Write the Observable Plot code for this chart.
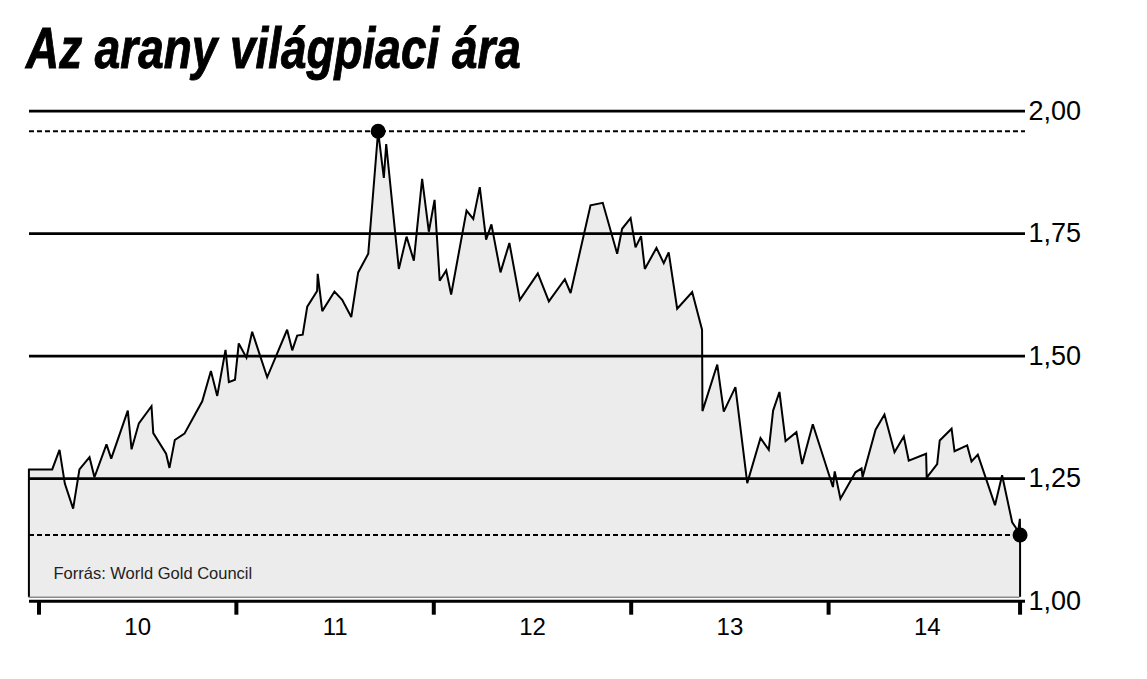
<!DOCTYPE html>
<html>
<head>
<meta charset="utf-8">
<script src="https://cdn.jsdelivr.net/npm/d3@7"></script>
<script src="https://cdn.jsdelivr.net/npm/@observablehq/plot@0.6"></script>
<style>
  html, body { margin: 0; padding: 0; background: #fff; }
  #wrap { width: 1147px; height: 679px; overflow: hidden; }
  #title {
    height: 90px; box-sizing: border-box; padding-top: 20px; padding-left: 26px;
    white-space: nowrap;
  }
  #title span {
    display: inline-block; transform: scaleX(0.805); transform-origin: 0 0;
    font-family: "Liberation Sans", "DejaVu Sans", sans-serif;
    font-weight: bold; font-style: italic; font-size: 57px; line-height: 1; color: #000;
    -webkit-text-stroke: 1px #000;
  }
  #chart svg { display: block; }
</style>
</head>
<body>
<div id="wrap">
  <div id="title"><span></span></div>
  <div id="chart"></div>
</div>
<script>
// time in decimal years, value (price, thousands)
const times = [
  2009.949, 2010.067, 2010.104, 2010.131, 2010.173, 2010.205, 2010.256, 2010.281, 2010.342, 2010.366,
  2010.450, 2010.469, 2010.506, 2010.570, 2010.579, 2010.644, 2010.661, 2010.688, 2010.737, 2010.827,
  2010.871, 2010.903, 2010.945, 2010.962, 2010.993, 2011.012, 2011.051, 2011.080, 2011.156, 2011.257,
  2011.283, 2011.308, 2011.336, 2011.359, 2011.409, 2011.412, 2011.435, 2011.497, 2011.536, 2011.582,
  2011.617, 2011.668, 2011.718, 2011.747, 2011.759, 2011.823, 2011.862, 2011.899, 2011.941, 2011.975,
  2012.004, 2012.030, 2012.063, 2012.088, 2012.166, 2012.200, 2012.233, 2012.265, 2012.292, 2012.338,
  2012.383, 2012.436, 2012.527, 2012.583, 2012.664, 2012.693, 2012.794, 2012.856, 2012.929, 2012.954,
  2012.997, 2013.022, 2013.050, 2013.069, 2013.128, 2013.165, 2013.190, 2013.233, 2013.309, 2013.359,
  2013.361, 2013.436, 2013.469, 2013.528, 2013.588, 2013.655, 2013.697, 2013.719, 2013.751, 2013.782,
  2013.837, 2013.866, 2013.920, 2014.022, 2014.031, 2014.060, 2014.136, 2014.167, 2014.172, 2014.238,
  2014.283, 2014.334, 2014.381, 2014.406, 2014.494, 2014.497, 2014.550, 2014.563, 2014.623, 2014.638,
  2014.702, 2014.724, 2014.756, 2014.843, 2014.879, 2014.930, 2014.947, 2014.960, 2014.969, 2014.970
];
const prices = [
  1.269, 1.269, 1.309, 1.240, 1.189, 1.269, 1.294, 1.253, 1.320, 1.291,
  1.389, 1.310, 1.363, 1.398, 1.343, 1.301, 1.272, 1.329, 1.342, 1.408,
  1.470, 1.419, 1.513, 1.447, 1.452, 1.526, 1.497, 1.550, 1.457, 1.554,
  1.512, 1.542, 1.544, 1.601, 1.633, 1.668, 1.592, 1.632, 1.615, 1.580,
  1.671, 1.709, 1.959, 1.864, 1.933, 1.678, 1.744, 1.695, 1.862, 1.754,
  1.819, 1.654, 1.675, 1.626, 1.797, 1.780, 1.845, 1.738, 1.769, 1.671,
  1.731, 1.615, 1.669, 1.612, 1.657, 1.629, 1.808, 1.813, 1.709, 1.760,
  1.782, 1.722, 1.745, 1.678, 1.721, 1.690, 1.712, 1.597, 1.631, 1.554,
  1.388, 1.483, 1.387, 1.437, 1.241, 1.333, 1.309, 1.389, 1.427, 1.327,
  1.345, 1.280, 1.361, 1.233, 1.265, 1.209, 1.263, 1.271, 1.253, 1.350,
  1.381, 1.304, 1.336, 1.287, 1.301, 1.252, 1.280, 1.328, 1.352, 1.306,
  1.318, 1.285, 1.299, 1.196, 1.257, 1.161, 1.151, 1.142, 1.168, 1.135
];
const yearTicks = [2010, 2011, 2012, 2013, 2014];
const yearLabels = ["10", "11", "12", "13", "14"];
const yTicks = [1.00, 1.25, 1.50, 1.75, 2.00];
const gridValues = [1.25, 1.50, 1.75, 2.00];
const sourceText = "Forrás: World Gold Council";
const titleText = "Az arany világpiaci ára";

document.querySelector("#title span").textContent = titleText;

const data = times.map((t, i) => ({t, v: prices[i]}));
const first = data[0];
const last = data[data.length - 1];
const peak = data.reduce((a, b) => (b.v > a.v ? b : a));
const base = 1.008; // area floor just above the axis line
const endTicks = [...yearTicks, last.t];
const labelPos = yearTicks.map(y => y + 0.5);
const fmt = d => d3.format(".2f")(d).replace(".", ",");
const font = "'Liberation Sans', Arial, sans-serif";

const chart = Plot.plot({
  width: 1147,
  height: 589,
  marginLeft: 29,
  marginRight: 122,
  marginTop: 20.7,
  marginBottom: 78.3,
  style: {fontFamily: font, color: "#000", background: "transparent"},
  x: {domain: [2009.952, 2014.9975], label: null},
  y: {domain: [1, 2], label: null},
  marks: [
    Plot.areaY(data, {x: "t", y1: base, y2: "v", fill: "#ececec"}),
    Plot.ruleY([base], {x1: first.t, x2: last.t, stroke: "#8a8a8a", strokeWidth: 1.5}),
    Plot.ruleX([first, last], {x: "t", y1: base, y2: "v", stroke: "#000", strokeWidth: 2}),
    Plot.ruleY(gridValues, {stroke: "#000", strokeWidth: 2.8}),
    Plot.ruleY([peak.v, last.v], {stroke: "#000", strokeWidth: 2, strokeDasharray: "5,3"}),
    Plot.line(data, {x: "t", y: "v", stroke: "#000", strokeWidth: 2, strokeLinejoin: "miter", strokeMiterlimit: 3}),
    Plot.dot([peak, last], {x: "t", y: "v", r: 7.5, fill: "#000", stroke: "none"}),
    Plot.ruleY([1], {stroke: "#000", strokeWidth: 3}),
    Plot.axisX(endTicks, {tickSize: 14, strokeWidth: 4, tickFormat: () => "", label: null}),
    Plot.axisX(labelPos, {tickSize: 0, tickPadding: 17, fontSize: 24, fill: "#000",
      tickFormat: (d, i) => yearLabels[i], label: null}),
    Plot.axisY(yTicks, {anchor: "right", tickSize: 0, tickPadding: 3, fontSize: 27, fill: "#000",
      tickFormat: fmt, label: null}),
    Plot.text([sourceText], {frameAnchor: "bottom-left", dx: 24, dy: -22.5, textAnchor: "start",
      fontSize: 16.5, fill: "#222", text: d => d})
  ]
});
document.getElementById("chart").appendChild(chart);
</script>
</body>
</html>
